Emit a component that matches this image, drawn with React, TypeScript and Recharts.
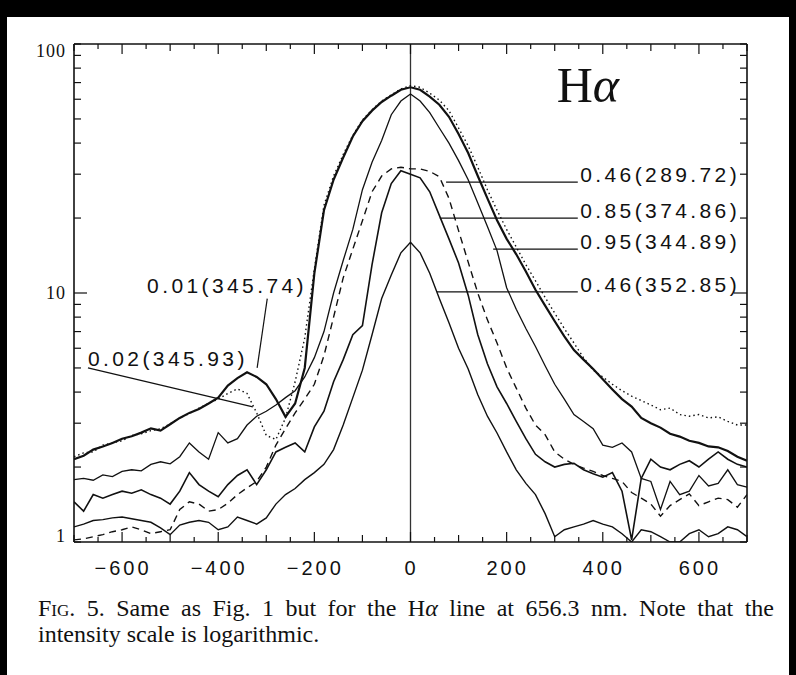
import { LineChart, Line, XAxis, YAxis, ReferenceLine, ReferenceDot } from "recharts";

// velocity grid (km/s), every 20
const velocity = [
  -700, -680, -660, -640, -620, -600, -580, -560, -540, -520, -500, -480, -460, -440, -420, -400,
  -380, -360, -340, -320, -300, -280, -260, -240, -220, -200, -180, -160, -140, -120, -100, -80,
  -60, -40, -20, 0, 20, 40, 60, 80, 100, 120, 140, 160, 180, 200, 220, 240, 260, 280, 300, 320,
  340, 360, 380, 400, 420, 440, 460, 480, 500, 520, 540, 560, 580, 600, 620, 640, 660, 680, 700,
]

// 0.02(345.93), dotted
const dotted002 = [
  2.2, 2.28, 2.3, 2.45, 2.5, 2.55, 2.68, 2.72, 2.8, 2.85, 2.98, 3.15, 3.28, 3.45, 3.6, 3.75,
  3.95, 4.12, 3.95, 3.3, 2.68, 2.58, 3.15, 4.4, 6.6, 12.5, 22.5, 29.5, 36, 43, 49.5, 54.5,
  59, 62.5, 66, 68, 67, 63.5, 59.5, 54, 46, 39, 32, 26, 21.5, 18, 15.3, 13, 11.2, 9.6, 8.3, 7.2,
  6.3, 5.5, 4.9, 4.6, 4.3, 4.05, 3.85, 3.7, 3.55, 3.4, 3.45, 3.25, 3.2, 3.25, 3.15, 3.18, 3.05, 2.95, 2.95,
]

// 0.01(345.74), thick solid
const thick001 = [
  2.15, 2.22, 2.35, 2.42, 2.5, 2.6, 2.66, 2.75, 2.86, 2.8, 2.97, 3.15, 3.3, 3.42, 3.6, 3.8,
  4.25, 4.55, 4.8, 4.6, 4.3, 3.75, 3.18, 3.6, 5.0, 12, 21.5, 28.5, 35, 42.5, 49, 54,
  58.5, 62, 65.5, 67, 65.5, 61.5, 57, 51, 43.5, 36.5, 29.5, 24, 19.6, 16.5, 14.3, 12.2, 10.3, 8.9, 7.7, 6.7,
  5.9, 5.4, 4.95, 4.5, 4.1, 3.75, 3.5, 3.15, 3.0, 2.88, 2.72, 2.65, 2.55, 2.5, 2.42, 2.4, 2.32, 2.2, 2.12,
]

// 0.95(344.89), thin solid
const thin095 = [
  1.78, 1.8, 1.77, 1.86, 1.83, 1.92, 1.95, 1.93, 2.05, 2.1, 2.06, 2.2, 2.5, 2.3, 2.15, 2.75,
  2.5, 2.6, 2.95, 3.2, 3.35, 3.55, 3.8, 4.05, 4.6, 5.5, 7.0, 10, 13.5, 18, 26, 33.5,
  41, 52, 59, 63, 59, 53, 46, 40, 34, 28.5, 23, 18.5, 14.8, 10.5, 8.6, 7.2, 6.1, 5.1, 4.3, 3.75,
  3.25, 3.05, 2.85, 2.45, 2.4, 2.5, 2.3, 1.8, 1.75, 1.35, 1.75, 1.55, 1.6, 1.85, 1.68, 1.72, 1.95, 1.7, 1.66,
]

// 0.46(289.72), dashed
const dashed046 = [
  1.02, 1.03, 1.05, 1.07, 1.1, 1.12, 1.15, 1.12, 1.08, 1.1, 1.12, 1.35, 1.45, 1.42, 1.33, 1.35,
  1.43, 1.55, 1.65, 1.75, 2.0, 2.45, 2.85, 3.3, 3.75, 4.3, 5.6, 8.0, 11.5, 15, 19.5, 25.5,
  29.5, 31.5, 32, 31.5, 31.5, 30.8, 29.3, 24, 17.8, 13.3, 10, 7.8, 6.3, 5.0, 4.15, 3.45, 2.95, 2.7, 2.3, 2.15,
  2.05, 1.98, 1.92, 1.85, 1.8, 1.75, 1.58, 1.5, 1.42, 1.27, 1.4, 1.48, 1.56, 1.4, 1.45, 1.5, 1.48, 1.38, 1.55,
]

// 0.85(374.86), solid
const solid085 = [
  1.45, 1.33, 1.55, 1.5, 1.55, 1.6, 1.57, 1.62, 1.55, 1.5, 1.42, 1.6, 1.9, 1.7, 1.6, 1.52,
  1.7, 1.85, 1.95, 1.7, 1.95, 2.3, 2.4, 2.5, 2.3, 2.9, 3.35, 4.4, 5.4, 6.8, 7.4, 13,
  21, 27.5, 31, 30, 29, 25.5, 20.5, 16.5, 13.2, 9.8, 6.8, 5.2, 4.2, 3.6, 3.05, 2.6, 2.25, 2.1, 2.0, 2.05,
  2.07, 1.95, 1.88, 1.82, 1.9, 1.6, 1.02, 1.8, 2.15, 2.0, 1.95, 2.05, 2.12, 2.0, 2.15, 2.3, 2.15, 2.05, 2.0,
]

// 0.46(352.85), lowest solid
const low046 = [
  1.15, 1.18, 1.22, 1.23, 1.25, 1.26, 1.24, 1.22, 1.2, 1.14, 1.07, 1.17, 1.2, 1.22, 1.2, 1.12,
  1.15, 1.26, 1.22, 1.18, 1.25, 1.42, 1.55, 1.64, 1.78, 1.9, 2.05, 2.35, 2.95, 3.8, 4.9, 6.8,
  9.5, 11.8, 14.5, 16, 14.5, 12, 9.5, 7.6, 6.0, 4.95, 3.9, 3.2, 2.74, 2.3, 1.95, 1.72, 1.55, 1.3, 1.05, 1.12,
  1.15, 1.18, 1.22, 1.18, 1.15, 1.08, 1.0, 1.12, 1.1, 1.05, 1.0, 1.0, 1.08, 1.12, 1.05, 1.08, 1.15, 1.12, 1.05,
]

const xTicks = [
  -700, -650, -600, -550, -500, -450, -400, -350, -300, -250, -200, -150, -100, -50, 0,
  50, 100, 150, 200, 250, 300, 350, 400, 450, 500, 550, 600, 650, 700,
]
const xLabelTicks = [-600, -400, -200, 0, 200, 400, 600]
const yTicks = [1, 2, 3, 4, 5, 6, 7, 8, 9, 10, 20, 30, 40, 50, 60, 70, 80, 90, 100]
const yLabelTicks = [1, 10, 100]

const labels = [
  { text: "0.46(289.72)", x: 353, y: 27.9 },
  { text: "0.85(374.86)", x: 353, y: 20.0 },
  { text: "0.95(344.89)", x: 353, y: 15.0 },
  { text: "0.46(352.85)", x: 353, y: 10.1 },
  { text: "0.01(345.74)", x: -548, y: 10.0 },
  { text: "0.02(345.93)", x: -671, y: 5.09 },
]

const leaders = [
  [{ x: 74, y: 27.9 }, { x: 348, y: 27.9 }],
  [{ x: 61, y: 20.0 }, { x: 348, y: 20.0 }],
  [{ x: 172, y: 15.0 }, { x: 348, y: 15.0 }],
  [{ x: 55, y: 10.1 }, { x: 348, y: 10.1 }],
  [{ x: -298, y: 9.5 }, { x: -319, y: 5.0 }],
  [{ x: -671, y: 5.0 }, { x: -328, y: 3.49 }],
]

const data = velocity.map((v, i) => ({
  v,
  a: dotted002[i],
  b: thick001[i],
  c: thin095[i],
  d: dashed046[i],
  e: solid085[i],
  f: low046[i],
}))

const INK = "#111"
const SANS = "'Liberation Sans', Arial, sans-serif"
const SERIF = "'Liberation Serif', 'Times New Roman', serif"

const xLen = (v: number) => (v % 200 === 0 ? 10 : v % 100 === 0 ? 7 : 5)
const yLen = (v: number) => (v === 10 ? 13 : 7)

const BottomTick = ({ x, y, payload }: any) => {
  const v = payload.value
  return (
    <g>
      <line x1={x} x2={x} y1={y} y2={y - xLen(v)} stroke={INK} strokeWidth={1.2} />
      {xLabelTicks.includes(v) && (
        <text x={x + 1} y={y + 33} textAnchor="middle" fontFamily={SANS} fontSize={20} letterSpacing={3} fill={INK}>
          {v < 0 ? `\u2212${-v}` : v}
        </text>
      )}
    </g>
  )
}

const TopTick = ({ x, y, payload }: any) => (
  <line x1={x} x2={x} y1={y} y2={y + xLen(payload.value)} stroke={INK} strokeWidth={1.2} />
)

const LeftTick = ({ x, y, payload }: any) => {
  const v = payload.value
  const dy = v === 100 ? 13 : v === 1 ? 0 : 6
  return (
    <g>
      <line x1={x} x2={x + yLen(v)} y1={y} y2={y} stroke={INK} strokeWidth={1.2} />
      {yLabelTicks.includes(v) && (
        <text x={x - 8} y={y + dy} textAnchor="end" fontFamily={SERIF} fontSize={18} letterSpacing={1} fill={INK}>
          {v}
        </text>
      )}
    </g>
  )
}

const RightTick = ({ x, y, payload }: any) => (
  <line x1={x} x2={x - yLen(payload.value)} y1={y} y2={y} stroke={INK} strokeWidth={1.2} />
)

export default function App() {
  return (
    <div style={{ position: "absolute", left: 0, top: 0, width: 796, height: 675, background: "#000" }}>
      <div style={{ position: "absolute", left: 7, top: 17, right: 7, bottom: 0, background: "#fff" }} />
      <div style={{ position: "absolute", left: 0, top: 0 }}>
        <LineChart width={796} height={590} data={data} margin={{ top: 42, right: 47, bottom: 8, left: 44 }}>
          <XAxis
            dataKey="v"
            type="number"
            domain={[-700, 700]}
            ticks={xTicks}
            interval={0}
            height={40}
            tickSize={0}
            tickMargin={0}
            tick={<BottomTick />}
            axisLine={{ stroke: INK, strokeWidth: 1.6 }}
            allowDataOverflow
          />
          <XAxis
            xAxisId="top"
            orientation="top"
            dataKey="v"
            type="number"
            domain={[-700, 700]}
            ticks={xTicks}
            interval={0}
            height={2}
            tickSize={0}
            tickMargin={0}
            tick={<TopTick />}
            axisLine={{ stroke: INK, strokeWidth: 1.6 }}
            allowDataOverflow
          />
          <YAxis
            type="number"
            scale="log"
            domain={[1, 100]}
            ticks={yTicks}
            interval={0}
            width={30}
            tickSize={0}
            tickMargin={0}
            tick={<LeftTick />}
            axisLine={{ stroke: INK, strokeWidth: 1.6 }}
            allowDataOverflow
          />
          <YAxis
            yAxisId="right"
            orientation="right"
            type="number"
            scale="log"
            domain={[1, 100]}
            ticks={yTicks}
            interval={0}
            width={2}
            tickSize={0}
            tickMargin={0}
            tick={<RightTick />}
            axisLine={{ stroke: INK, strokeWidth: 1.6 }}
            allowDataOverflow
          />
          <ReferenceLine x={0} stroke="#333" strokeWidth={1.3} />
          <Line dataKey="a" stroke={INK} strokeWidth={1.4} strokeDasharray="1.5 3" dot={false} isAnimationActive={false} />
          <Line dataKey="b" stroke={INK} strokeWidth={2.2} dot={false} isAnimationActive={false} />
          <Line dataKey="c" stroke={INK} strokeWidth={1.3} dot={false} isAnimationActive={false} />
          <Line dataKey="d" stroke={INK} strokeWidth={1.4} strokeDasharray="7 5" dot={false} isAnimationActive={false} />
          <Line dataKey="e" stroke={INK} strokeWidth={1.6} dot={false} isAnimationActive={false} />
          <Line dataKey="f" stroke={INK} strokeWidth={1.4} dot={false} isAnimationActive={false} />
          {leaders.map((seg, i) => (
            <ReferenceLine key={`l${i}`} segment={seg} stroke={INK} strokeWidth={1.2} />
          ))}
          {labels.map((l) => (
            <ReferenceDot
              key={l.text + l.x}
              x={l.x}
              y={l.y}
              r={0}
              shape={(p: any) => (
                <text x={p.cx} y={p.cy} fontFamily={SANS} fontSize={21} letterSpacing={3.4} fill={INK}>
                  {l.text}
                </text>
              )}
            />
          ))}
          <ReferenceDot
            x={304}
            y={58.5}
            r={0}
            shape={(p: any) => (
              <text x={p.cx} y={p.cy} fontFamily={SERIF} fontSize={50} fill={INK}>
                H<tspan fontStyle="italic">α</tspan>
              </text>
            )}
          />
        </LineChart>
      </div>
      <div
        style={{
          position: "absolute",
          left: 38,
          top: 595,
          width: 736,
          fontFamily: SERIF,
          fontSize: 24,
          lineHeight: "26px",
          color: "#111",
        }}
      >
        <div style={{ textAlign: "justify", textAlignLast: "justify" }}>
          <span style={{ fontVariant: "small-caps" }}>Fig.</span> 5. Same as Fig. 1 but for the H<i>α</i> line at 656.3 nm. Note that the
        </div>
        <div>intensity scale is logarithmic.</div>
      </div>
    </div>
  )
}
